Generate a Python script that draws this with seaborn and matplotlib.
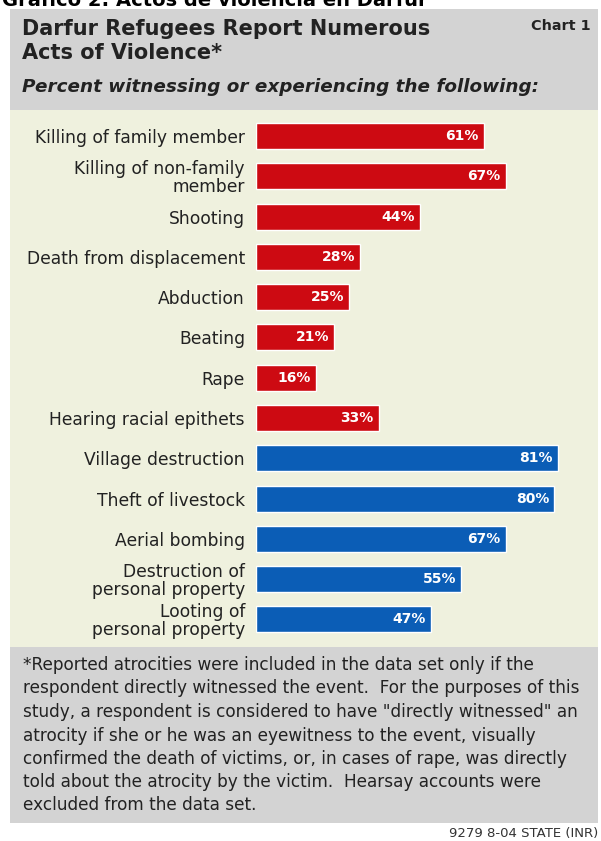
import matplotlib
matplotlib.use("Agg")
import matplotlib.pyplot as plt
from matplotlib.patches import Rectangle
import seaborn as sns
import pandas as pd

# ---------------- data ----------------
categories = [
    "Killing of family member",
    "Killing of non-family\nmember",
    "Shooting",
    "Death from displacement",
    "Abduction",
    "Beating",
    "Rape",
    "Hearing racial epithets",
    "Village destruction",
    "Theft of livestock",
    "Aerial bombing",
    "Destruction of\npersonal property",
    "Looting of\npersonal property",
]
values = [61, 67, 44, 28, 25, 21, 16, 33, 81, 80, 67, 55, 47]
groups = ["violence"] * 8 + ["property"] * 5

top_title = "Gráfico 2: Actos de violencia en Darfur"
title_lines = ["Darfur Refugees Report Numerous", "Acts of Violence*"]
chart_tag = "Chart 1"
subtitle = "Percent witnessing or experiencing the following:"
footnote_lines = [
    "*Reported atrocities were included in the data set only if the",
    "respondent directly witnessed the event.  For the purposes of this",
    "study, a respondent is considered to have \"directly witnessed\" an",
    "atrocity if she or he was an eyewitness to the event, visually",
    "confirmed the death of victims, or, in cases of rape, was directly",
    "told about the atrocity by the victim.  Hearsay accounts were",
    "excluded from the data set.",
]
source = "9279 8-04 STATE (INR)"

# ---------------- style ----------------
RED = "#cd0a12"
BLUE = "#0b5db6"
GRAY = "#d3d3d3"
CREAM = "#eff1de"
TEXT = "#222222"

sns.set_theme(style="white")
plt.rcParams["font.family"] = ["DejaVu Sans"]

W, H = 601, 841
fig = plt.figure(figsize=(W / 100, H / 100), dpi=100)
fig.patch.set_facecolor("white")


def fx(px):
    return px / W


def fy(py):
    return 1 - py / H


def panel(x0, y0, x1, y1, color):
    fig.add_artist(Rectangle((fx(x0), fy(y1)), fx(x1) - fx(x0), fy(y0) - fy(y1),
                             transform=fig.transFigure, facecolor=color,
                             edgecolor="none", zorder=0))


panel(10, 9, 598, 110, GRAY)
panel(10, 110, 598, 647, CREAM)
panel(10, 647, 598, 823, GRAY)

# header texts (the top Spanish title is cropped at the top edge, as in the source)
fig.text(fx(2), fy(6), top_title, fontsize=14, fontweight="bold", color="black",
         ha="left", va="baseline")
fig.text(fx(22), fy(29), title_lines[0], fontsize=15, fontweight="bold", color=TEXT,
         ha="left", va="center")
fig.text(fx(22), fy(53), title_lines[1], fontsize=15, fontweight="bold", color=TEXT,
         ha="left", va="center")
fig.text(fx(591), fy(26), chart_tag, fontsize=10.4, fontweight="bold", color=TEXT,
         ha="right", va="center")
fig.text(fx(22), fy(87), subtitle, fontsize=13.2, fontweight="bold", style="italic",
         color=TEXT, ha="left", va="center")

# ---------------- bars ----------------
df = pd.DataFrame({"category": categories, "value": values, "group": groups})

ax_left, ax_right = 256, 598
ax_top, ax_bot = 110, 647
ax = fig.add_axes([fx(ax_left), fy(ax_bot), fx(ax_right) - fx(ax_left),
                   fy(ax_top) - fy(ax_bot)])
ax.patch.set_alpha(0)

sns.barplot(data=df, x="value", y="category", hue="group",
            palette={"violence": RED, "property": BLUE}, dodge=False,
            orient="h", width=0.645, legend=False, ax=ax, saturation=1)

px_per_unit = 3.73
ax.set_xlim(0, (ax_right - ax_left) / px_per_unit)
first_c, step = 136, 40.29
ax.set_ylim((ax_bot - first_c) / step, (ax_top - first_c) / step)

for i, v in enumerate(values):
    ax.text(v - 1.4, i, f"{v}%", ha="right", va="center", color="white",
            fontsize=10, fontweight="bold")

for s in ax.spines.values():
    s.set_visible(False)
ax.set_xlabel("")
ax.set_ylabel("")
ax.set_xticks([])
ax.tick_params(axis="y", length=0, pad=8, labelsize=12.3, labelcolor=TEXT)
for t in ax.get_yticklabels():
    t.set_linespacing(1.0)

# ---------------- footnote ----------------
foot_y = [665, 688, 712, 736, 759, 782, 805]
for line, y in zip(footnote_lines, foot_y):
    fig.text(fx(23), fy(y), line, fontsize=12.2, color=TEXT, ha="left", va="center")

fig.text(fx(598), fy(834), source, fontsize=9.5, color="#333333", ha="right",
         va="center")

fig.savefig("out.png", dpi=100)
